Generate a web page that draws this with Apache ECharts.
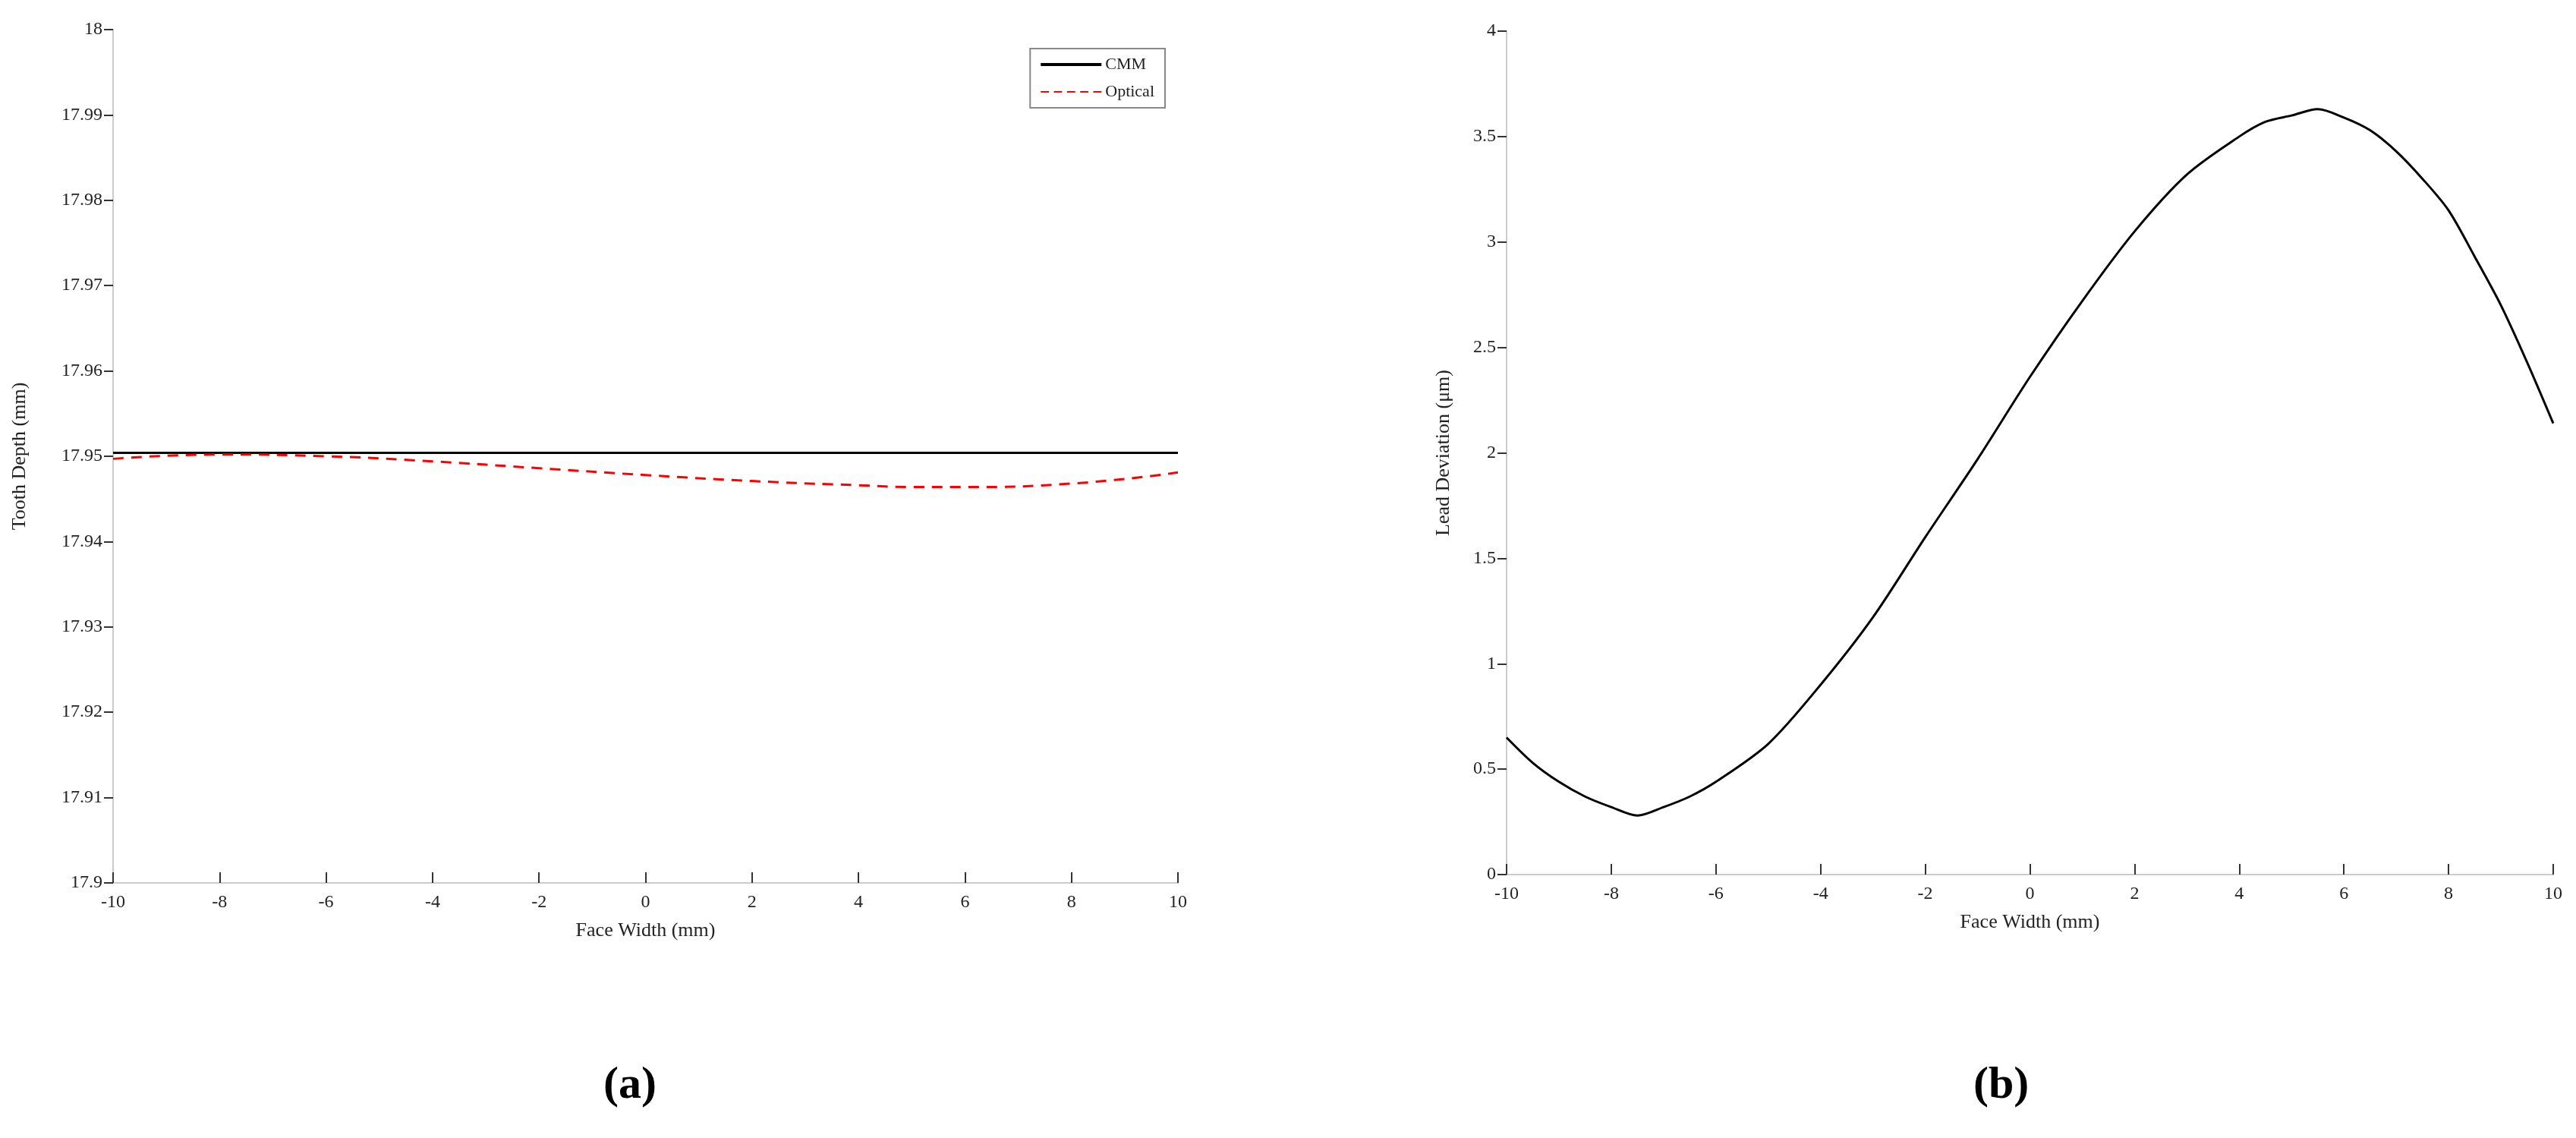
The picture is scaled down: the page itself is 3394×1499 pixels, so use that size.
<!DOCTYPE html>
<html lang="en">
<head>
    <meta charset="UTF-8" />
    <title>Tooth depth and lead deviation</title>
    <script src="https://cdn.jsdelivr.net/npm/echarts@6/dist/echarts.min.js"></script>
</head>
<style>
    * { margin: 0; padding: 0; }
    #main { width: 3394px; height: 1499px; background: #fff; }
</style>
<body>
    <div id="main"></div>
</body>
<script>
    // (a) tooth depth
    const xA = [-10, -8, -6, -4, -2, 0, 2, 4, 5, 6, 8, 10];
    const cmm = [17.9504, 17.9504, 17.9504, 17.9504, 17.9504, 17.9504, 17.9504, 17.9504, 17.9504, 17.9504, 17.9504, 17.9504];
    const optical = [17.9497, 17.9502, 17.9500, 17.9494, 17.9486, 17.9478, 17.9471, 17.9466, 17.9464, 17.9464, 17.9468, 17.9481];
    // (b) lead deviation
    const xB = [-10, -9.5, -9, -8.5, -8, -7.5, -7, -6.5, -6, -5, -4, -3, -2, -1, 0, 1, 2, 3, 4, 4.5, 5, 5.5, 6, 6.5, 7, 7.5, 8, 8.5, 9, 9.5, 10];
    const lead = [0.65, 0.53, 0.44, 0.37, 0.32, 0.28, 0.32, 0.37, 0.44, 0.62, 0.9, 1.22, 1.6, 1.97, 2.36, 2.72, 3.05, 3.32, 3.5, 3.57, 3.6, 3.63, 3.59, 3.53, 3.43, 3.3, 3.15, 2.93, 2.7, 2.43, 2.14];

    const font = "Liberation Serif";
    const pair = (xs, ys) => xs.map((x, i) => [x, ys[i]]);

    function xAxis(idx) {
        return {
            gridIndex: idx, type: "value", min: -10, max: 10, interval: 2,
            name: "Face Width (mm)", nameLocation: "middle", nameGap: 50,
            nameTextStyle: { fontFamily: font, fontSize: 26, color: "#222" },
            axisLine: { onZero: false, lineStyle: { color: "#ccc", width: 2 } },
            axisTick: { inside: true, length: 14, lineStyle: { color: "#333", width: 2 } },
            axisLabel: { fontFamily: font, fontSize: 24, color: "#222", margin: 14 },
            splitLine: { show: false }
        };
    }
    function yAxis(idx, min, max, interval, name, dec) {
        return {
            gridIndex: idx, type: "value", min: min, max: max, interval: interval,
            name: name, nameLocation: "middle", nameGap: idx === 0 ? 110 : 70,
            nameTextStyle: { fontFamily: font, fontSize: 26, color: "#222" },
            axisLine: { show: true, onZero: false, lineStyle: { color: "#ccc", width: 2 } },
            axisTick: { show: true, length: 12, lineStyle: { color: "#333", width: 2 } },
            axisLabel: { fontFamily: font, fontSize: 24, color: "#222", margin: 14,
                formatter: v => String(+v.toFixed(dec)) },
            splitLine: { show: false }
        };
    }

    const chart = echarts.init(document.getElementById("main"));
    chart.setOption({
        animation: false,
        backgroundColor: "#fff",
        grid: [
            { left: 149, top: 39, width: 1403, height: 1124 },
            { left: 1985, top: 41, width: 1379, height: 1111 }
        ],
        title: [
            { text: "(a)", left: 790, top: 1395, textStyle: { fontFamily: font, fontSize: 60, fontWeight: "bold", color: "#000" } },
            { text: "(b)", left: 2595, top: 1395, textStyle: { fontFamily: font, fontSize: 60, fontWeight: "bold", color: "#000" } }
        ],
        legend: {
            right: 3394 - 1535, top: 64, orient: "vertical",
            backgroundColor: "#fff", borderColor: "#888", borderWidth: 2, padding: [10, 14],
            itemWidth: 80, itemHeight: 4, itemGap: 14,
            textStyle: { fontFamily: font, fontSize: 22, color: "#222" },
            data: [
                { name: "CMM", icon: "rect" },
                { name: "Optical", icon: "path://M0,0H10V2H0Z M16,0H26V2H16Z M32,0H42V2H32Z M48,0H58V2H48Z M64,0H74V2H64Z" }
            ]
        },
        xAxis: [xAxis(0), xAxis(1)],
        yAxis: [
            yAxis(0, 17.9, 18, 0.01, "Tooth Depth (mm)", 2),
            yAxis(1, 0, 4, 0.5, "Lead Deviation (μm)", 1)
        ],
        series: [
            { name: "CMM", type: "line", xAxisIndex: 0, yAxisIndex: 0, data: pair(xA, cmm),
              showSymbol: false, lineStyle: { color: "#000", width: 3 }, itemStyle: { color: "#000" } },
            { name: "Optical", type: "line", smooth: true, xAxisIndex: 0, yAxisIndex: 0, data: pair(xA, optical),
              showSymbol: false, lineStyle: { color: "#f00", width: 3, type: [14, 10] }, itemStyle: { color: "#f00" } },
            { name: "Lead", type: "line", smooth: 0.3, xAxisIndex: 1, yAxisIndex: 1, data: pair(xB, lead),
              showSymbol: false, lineStyle: { color: "#000", width: 3 } }
        ]
    });
</script>
</html>
